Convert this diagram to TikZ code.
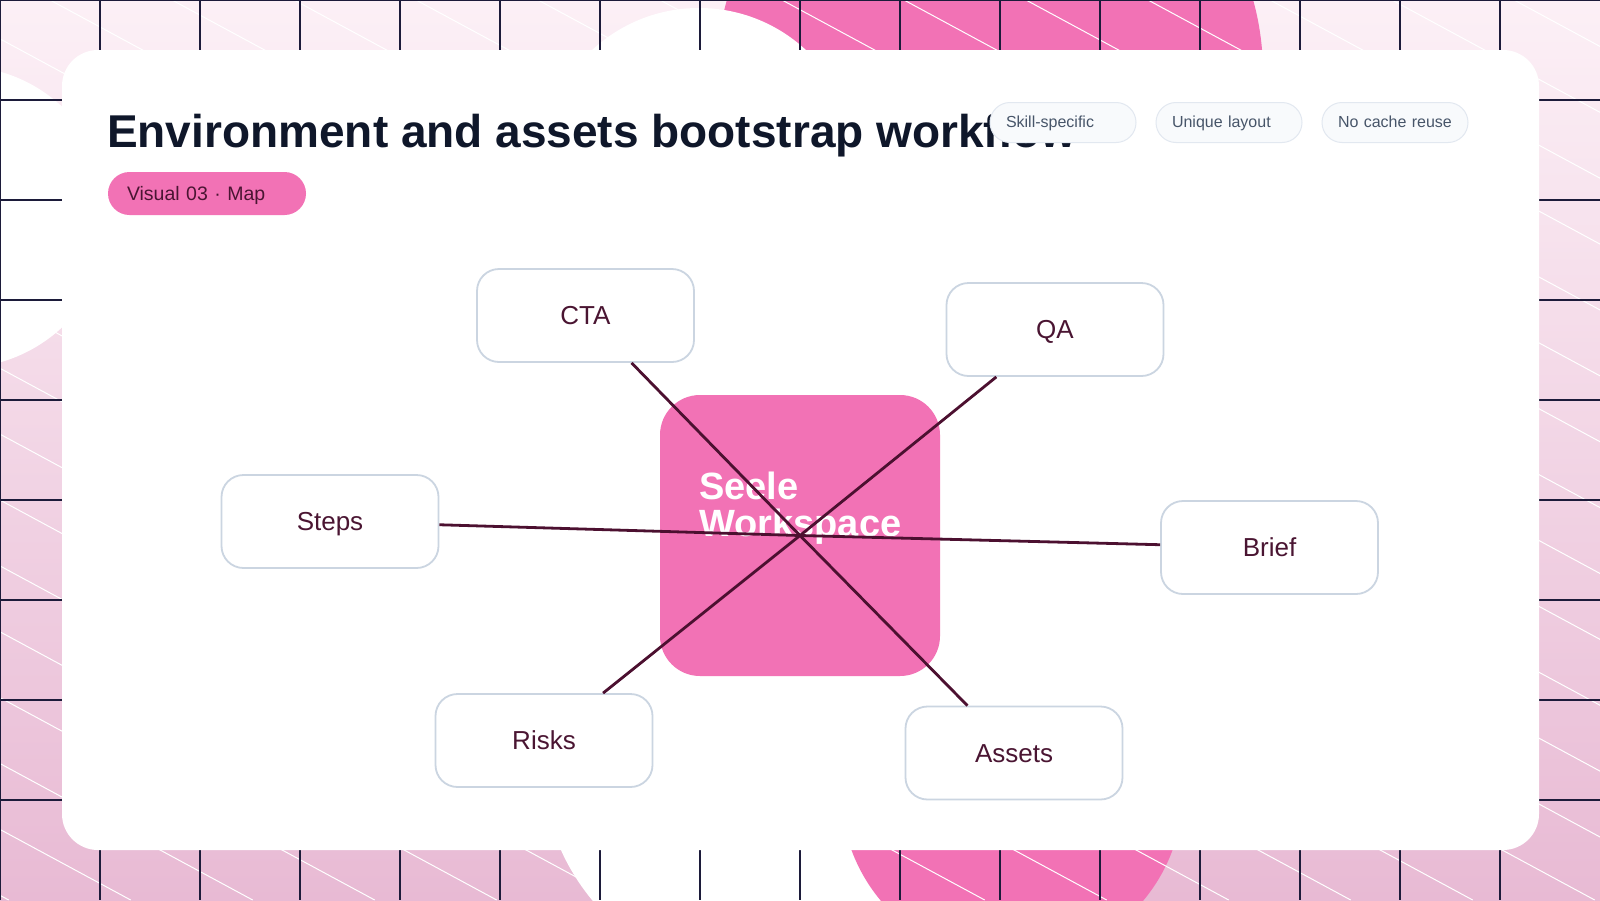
\documentclass[tikz,border=0pt]{standalone}
\usepackage{fontspec}
\setmainfont{Liberation Sans}
\usetikzlibrary{positioning}

\definecolor{seele}{HTML}{F272B5}
\definecolor{bgtop}{HTML}{FCF0F6}
\definecolor{bgbot}{HTML}{E8BAD4}
\definecolor{gridink}{HTML}{1C1B3A}
\definecolor{titleink}{HTML}{0F172A}
\definecolor{ink}{HTML}{4A1532}
\definecolor{linkink}{HTML}{4C1030}
\definecolor{boxline}{HTML}{CBD5E1}
\definecolor{tagline}{HTML}{E2E8F0}
\definecolor{tagfill}{HTML}{F8FAFC}
\definecolor{tagink}{HTML}{475569}

\begin{document}
\begin{tikzpicture}[x=1pt, y=-1pt,
  every node/.style={font=\fontsize{26}{30}\selectfont},
  box/.style={draw=boxline, line width=1.8pt, fill=white, rounded corners=22pt,
    minimum width=217pt, minimum height=93pt, text=ink,
    text height=18.6pt, text depth=0pt},
  hub/.style={fill=seele, rounded corners=40pt, minimum width=280pt,
    minimum height=281pt, inner sep=0pt},
  hubtext/.style={anchor=base west, inner sep=0pt, text=white,
    font=\bfseries\fontsize{38}{38}\selectfont},
  tag/.style={draw=tagline, fill=tagfill, line width=1pt, rounded corners=20pt,
    text width=114pt, align=left, inner xsep=16pt, inner ysep=0pt,
    minimum height=40pt, text height=12pt, text depth=3pt,
    text=tagink, font=\fontsize{16}{19}\selectfont},
  kicker/.style={fill=seele, rounded corners=21.5pt, text width=160pt,
    align=left, inner xsep=19pt, inner ysep=0pt, minimum height=43pt,
    text height=15pt, text depth=1pt,
    text=ink, font=\fontsize{19.5}{23}\selectfont},
  link/.style={draw=linkink, line width=2.8pt}]
  \useasboundingbox (0,0) rectangle (1600,900);

  % backdrop
  \shade[top color=bgtop, bottom color=bgbot] (0,0) rectangle (1600,900);
  \fill[seele] (990,73) circle (273);
  \fill[white] (699,165) circle (157);
  \fill[white] (-41,217) circle (151);
  \fill[white] (760,761) circle (218);
  \fill[seele] (1012,791) circle (171);

  % thin white hatching
  \begin{scope}
    \clip (0,0) rectangle (1600,900);
    \foreach \i in {-14,...,13}
      \draw[white, line width=1pt] ({50+122*\i},0) -- ++(1666.7,900);
  \end{scope}

  % grid
  \foreach \x in {0,100,...,1500}
    \draw[gridink, line width=1.2pt] (\x,0) -- (\x,900);
  \foreach \y in {0,100,...,800}
    \draw[gridink, line width=1.2pt] (0,\y) -- (1600,\y);

  % card
  \fill[white, rounded corners=36pt] (62,50) rectangle (1539,850);

  % heading
  \node[anchor=base west, inner sep=0pt, text=titleink,
    font=\bfseries\fontsize{46}{55}\selectfont] (title) at (107,147)
    {Environment and assets bootstrap workflow};
  \node[kicker] (visual) at (207,193.5) {Visual 03 · Map};

  % tags
  \node[tag] (skill) at (1063,122.5) {Skill-specific};
  \node[tag, right=19pt of skill] (unique) {Unique layout};
  \node[tag, right=19pt of unique] (nocache) {No cache reuse};

  % hub
  \node[hub] (hub) at (800,535.5) {};
  \node[hubtext] (seele) at (699,499) {Seele};
  \node[hubtext] (workspace) at (699,536) {Workspace};

  % satellites
  \node[box] (cta) at (585.5,315.5) {CTA};
  \node[box] (qa) at (1055,329.5) {QA};
  \node[box] (steps) at (330,521.5) {Steps};
  \node[box] (brief) at (1269.5,547.5) {Brief};
  \node[box] (risks) at (544,740.5) {Risks};
  \node[box] (assets) at (1014,753) {Assets};

  % spokes
  \foreach \n in {cta,qa,steps,brief,risks,assets}
    \draw[link] (hub.center) -- (\n);

\end{tikzpicture}
\end{document}
